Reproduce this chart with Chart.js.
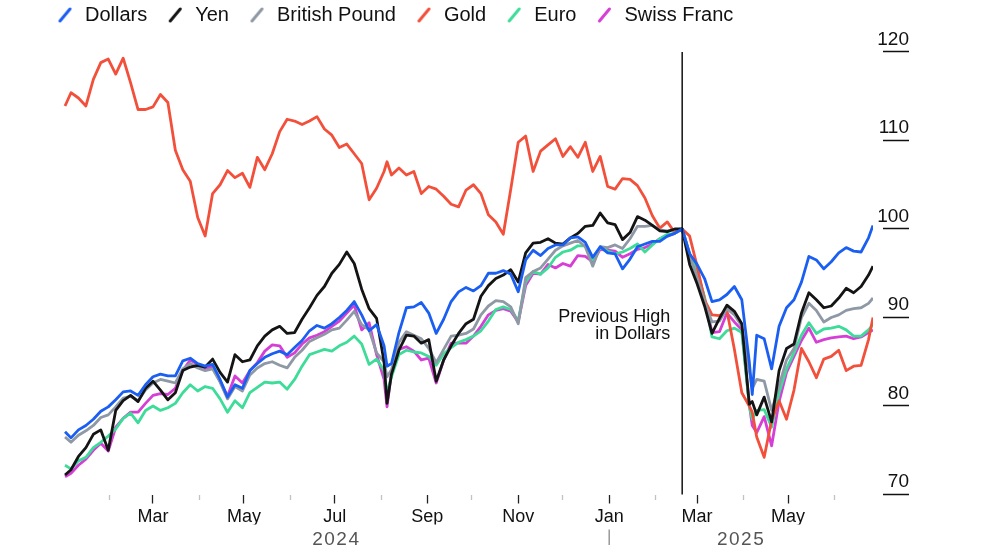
<!DOCTYPE html>
<html><head><meta charset="utf-8">
<script src="https://cdn.jsdelivr.net/npm/chart.js@4.4.1/dist/chart.umd.min.js"></script>
<style>html,body{margin:0;padding:0;background:#fff}#wrap{width:1000px;height:545px;position:relative}</style>
</head><body><div id="wrap"><canvas id="c"></canvas></div>
<script>
// x values: days since 2024-01-01 (trading-day samples)
const days = [
  1,5,10,15,20,25,30,35,40,45,
  50,55,60,65,70,75,80,85,90,95,
  100,105,110,115,120,125,130,135,140,145,
  150,155,160,165,170,175,180,185,190,195,
  200,205,210,215,217,220,225,230,235,240,245,
  250,255,260,265,270,275,280,285,290,295,
  300,305,310,315,320,325,330,335,340,345,
  350,355,360,365,370,375,380,385,390,395,
  400,405,410,415,420,425,430,435,440,445,
  450,455,460,462,465,470,475,480,485,490,495,
  500,505,510,515,520,525,530,535,540,543
];
const dollars = [
  77.1,76.4,77.3,77.8,78.5,79.4,79.9,80.7,81.6,81.7,
  81.2,82.4,83.3,83.6,83.4,83.4,85.1,85.4,84.8,84.5,
  84.7,83.0,81.0,82.4,82.0,84.0,84.8,85.5,85.9,86.2,
  85.8,86.6,87.4,88.5,89.1,88.8,89.3,90.0,90.8,91.8,
  90.3,88.5,89.2,86.8,84.5,84.8,88.3,91.1,91.2,91.7,90.5,
  88.2,89.8,91.8,92.9,93.4,93.0,93.6,95.0,95.0,95.3,
  94.9,92.9,96.5,97.6,97.0,97.8,98.2,98.2,99.0,99.1,
  98.5,96.8,98.0,97.3,97.2,95.5,96.6,98.0,98.3,98.6,
  98.6,99.2,99.5,100.0,97.2,96.0,94.4,91.8,92.0,92.6,
  93.5,92.0,85.0,81.3,88.0,87.6,84.2,89.0,91.1,92.0,94.0,
  96.9,96.5,95.5,96.3,97.3,97.9,97.5,97.4,99.0,100.4
];
const yen = [
  72.2,72.8,74.3,75.3,76.8,77.3,75.0,79.5,80.6,81.2,
  80.5,82.0,82.8,81.8,80.7,81.5,84.0,84.4,84.6,84.4,
  85.3,83.8,82.7,85.8,85.0,85.2,86.8,87.9,88.6,89.0,
  88.2,88.3,89.8,91.1,92.5,93.5,95.0,96.0,97.4,96.1,
  93.2,91.0,89.9,85.0,80.3,83.6,86.3,88.0,87.9,87.1,87.5,
  82.8,85.2,86.8,88.2,89.3,89.8,92.4,93.6,94.4,94.8,
  95.4,94.0,97.3,98.4,98.5,98.9,98.4,98.3,99.0,99.5,
  100.3,100.4,101.8,100.7,100.5,98.8,99.6,101.4,101.0,100.4,
  99.8,99.7,100.0,100.0,96.0,93.8,91.3,88.2,89.9,91.4,
  90.7,89.3,80.2,80.5,79.0,81.0,78.2,84.0,86.5,87.0,90.5,
  92.8,92.0,91.1,91.3,92.2,93.3,92.8,93.5,94.8,95.8
];
const britishPound = [
  76.5,75.9,76.7,77.2,77.8,78.7,79.0,79.9,80.9,81.1,
  80.6,81.8,82.6,83.0,82.8,82.6,84.2,84.8,84.3,84.0,
  84.2,82.7,80.8,82.2,81.7,83.5,84.3,84.8,85.0,84.6,
  84.3,85.5,86.3,87.3,87.7,88.1,88.6,88.8,89.7,90.7,
  89.2,88.6,86.0,85.0,83.3,84.1,87.2,88.4,88.0,87.6,86.5,
  84.9,86.4,87.9,88.0,88.2,88.7,90.3,91.3,91.9,91.8,
  91.2,89.3,94.5,95.2,95.6,96.6,97.6,98.1,98.4,98.7,
  98.0,95.8,98.0,97.9,98.2,97.8,98.9,100.3,100.3,100.4,
  99.9,99.8,99.9,100.0,97.0,94.5,91.8,89.5,89.6,91.0,
  90.3,89.0,84.0,82.0,83.0,82.8,79.5,82.3,85.2,86.5,90.0,
  91.6,90.8,89.5,90.0,90.3,90.8,91.0,91.1,91.6,92.2
];
const gold = [
  113.9,115.4,114.8,113.9,116.9,118.8,119.2,117.5,119.3,116.5,
  113.5,113.5,113.8,115.2,114.3,108.9,106.7,105.4,101.3,99.2,
  104.0,105.0,106.6,105.8,106.3,104.7,108.1,106.7,108.5,111.0,
  112.4,112.2,111.8,112.2,112.7,111.3,110.6,109.2,109.6,108.5,
  107.4,103.3,104.6,106.5,107.6,106.1,106.9,106.1,106.5,104.0,104.8,
  104.5,103.7,102.8,102.5,104.4,105.0,104.0,101.6,100.8,99.4,
  104.5,109.8,110.5,106.5,108.8,109.5,110.2,108.2,109.3,108.1,
  109.8,106.5,108.2,104.8,104.5,105.7,105.6,104.9,103.5,101.5,
  100.1,100.8,99.6,100.0,99.2,95.8,92.0,90.3,90.2,90.8,
  86.4,81.5,80.0,79.3,76.5,74.2,78.4,80.6,78.5,81.8,86.5,
  85.0,83.2,85.3,85.6,86.3,84.0,84.5,84.6,87.5,90.0
];
const euro = [
  73.3,72.9,73.8,74.2,75.3,75.9,76.6,77.4,78.6,79.2,
  78.1,79.5,80.0,79.5,79.8,80.3,81.5,82.4,81.7,82.2,
  82.0,80.8,79.3,80.6,79.8,81.5,82.1,82.7,82.6,82.7,
  81.9,83.0,84.5,85.8,86.1,86.4,86.2,86.8,87.2,87.9,
  87.0,84.7,85.3,84.0,81.4,83.3,85.8,86.3,86.1,86.0,85.6,
  84.6,85.9,86.6,87.2,87.5,87.9,88.5,89.6,90.9,91.2,
  90.9,89.6,94.0,95.2,94.9,95.6,96.8,97.4,97.6,98.1,
  98.1,96.5,97.9,97.5,97.2,97.4,97.8,98.3,97.4,98.2,
  98.9,99.4,99.5,100.0,97.2,95.3,92.3,87.8,87.6,88.5,
  88.8,88.3,80.0,78.5,79.5,79.6,77.6,81.5,84.2,86.0,88.0,
  89.4,88.2,88.7,88.8,89.0,88.6,87.9,87.9,88.6,89.2
];
const swissFranc = [
  72.0,72.4,73.3,74.0,75.0,75.8,74.9,77.6,78.6,79.3,
  79.3,80.3,81.2,81.4,81.3,82.0,84.0,85.2,84.7,84.3,
  84.4,82.8,81.1,83.4,82.6,84.0,84.9,86.2,86.9,86.8,
  85.5,86.0,87.0,87.7,88.0,88.4,89.0,89.6,90.5,91.4,
  88.6,89.4,85.8,83.0,79.9,83.8,86.4,86.7,86.2,85.2,85.4,
  82.6,85.2,87.1,87.1,87.1,87.9,89.0,90.3,90.8,91.0,
  90.7,89.5,93.6,95.0,94.9,96.0,95.6,96.1,95.8,97.0,
  96.9,96.3,97.7,97.6,97.5,96.8,97.2,97.7,97.9,98.3,
  98.9,99.2,99.5,100.0,97.1,95.2,92.2,88.3,88.4,90.5,
  89.5,88.6,80.2,77.8,77.0,78.8,75.5,80.5,83.8,85.6,87.4,
  88.8,87.2,87.5,87.7,87.8,87.9,87.6,87.8,88.3,88.6
];

const seriesNames = ['Dollars', 'Yen', 'British Pound', 'Gold', 'Euro', 'Swiss Franc'];
const seriesValues = [dollars, yen, britishPound, gold, euro, swissFranc];
const seriesColors = ['#1a5ff2', '#141414', '#8f98a5', '#f2503b', '#3ddc98', '#d63fd6'];

const monthTickDays = [31, 60, 91, 121, 152, 182, 213, 244, 274, 305, 335, 366, 397, 425, 456, 486, 517];
const monthTickLabels = ['', 'Mar', '', 'May', '', 'Jul', '', 'Sep', '', 'Nov', '', 'Jan', '', 'Mar', '', 'May', ''];
const yearTickDays = [183, 454.5];
const yearTickLabels = ['2024', '2025'];
const yearBoundaryDay = 366;
const valueTicks = [70, 80, 90, 100, 110, 120];
const peakDay = 415;
const peakLabel = ['Previous High', 'in Dollars'];

const FONT = '"Liberation Sans", Arial, Helvetica, sans-serif';
Chart.defaults.font.family = FONT;

function slashMarker(color) {
  const c = document.createElement('canvas');
  c.width = 30; c.height = 20;
  const g = c.getContext('2d');
  g.strokeStyle = color; g.lineWidth = 3; g.lineCap = 'round';
  g.beginPath(); g.moveTo(16.5, 16); g.lineTo(26.5, 4); g.stroke();
  return c;
}
const markerImgs = seriesColors.map(slashMarker);

const xMin = -17.8, xMax = 543;

const overlay = {
  id: 'overlay',
  afterDatasetsDraw(chart) {
    const {ctx, scales: {x, y}, chartArea} = chart;
    const px = x.getPixelForValue(peakDay);
    ctx.save();
    ctx.strokeStyle = '#111'; ctx.lineWidth = 1.5;
    ctx.beginPath(); ctx.moveTo(px, y.getPixelForValue(120)); ctx.lineTo(px, chartArea.bottom); ctx.stroke();
    ctx.font = '18px ' + FONT; ctx.fillStyle = '#111'; ctx.textAlign = 'right'; ctx.textBaseline = 'middle';
    const ty = y.getPixelForValue(90.1);
    peakLabel.forEach((t, i) => ctx.fillText(t, px - 12, ty + i * 17));
    const sx = x.getPixelForValue(yearBoundaryDay);
    ctx.strokeStyle = '#666'; ctx.lineWidth = 1;
    ctx.beginPath(); ctx.moveTo(sx, chartArea.bottom + 35); ctx.lineTo(sx, chart.height); ctx.stroke();
    ctx.restore();
  }
};

function spacedLabels(s) {
  if (s._spacedPatched) return;
  s._spacedPatched = true;
  const orig = s.drawLabels.bind(s);
  s.drawLabels = function (area) {
    this.ctx.save();
    this.ctx.letterSpacing = '1.5px';
    orig(area);
    this.ctx.restore();
  };
}

new Chart(document.getElementById('c'), {
  type: 'line',
  data: {
    datasets: seriesNames.map((name, i) => ({
      label: name,
      data: days.map((d, j) => ({x: d, y: seriesValues[i][j]})),
      borderColor: seriesColors[i],
      backgroundColor: seriesColors[i],
      borderWidth: 2.8,
      pointRadius: 0,
      tension: 0,
      borderJoinStyle: 'round',
      pointStyle: markerImgs[i]
    }))
  },
  options: {
    responsive: true,
    maintainAspectRatio: false,
    animation: false,
    layout: {padding: {left: 37, right: 91, top: 0, bottom: 0}},
    plugins: {
      tooltip: {enabled: false},
      legend: {
        position: 'top', align: 'start',
        labels: {
          usePointStyle: true, pointStyleWidth: 33, padding: 5,
          color: '#111', font: {size: 20, family: FONT},
          generateLabels(chart) {
            return chart.data.datasets.map((ds, i) => ({
              text: ds.label, pointStyle: markerImgs[i], fillStyle: ds.borderColor,
              strokeStyle: ds.borderColor, lineWidth: 0, hidden: false, datasetIndex: i, fontColor: '#111'
            }));
          }
        }
      }
    },
    scales: {
      x: {
        type: 'linear', position: 'bottom', min: xMin, max: xMax, weight: 0,
        afterBuildTicks: s => { s.ticks = monthTickDays.map(v => ({value: v})); },
        afterFit: s => { s.height = 30; },
        grid: {
          display: true, drawOnChartArea: false, drawTicks: true, tickLength: 9, tickWidth: 1.3,
          tickColor: c => monthTickLabels[c.index] ? '#222' : '#c2c2c2',
          tickBorderDash: c => monthTickLabels[c.index] ? [] : [5, 100]
        },
        border: {display: false},
        ticks: {
          autoSkip: false, maxRotation: 0, minRotation: 0, padding: 3, color: '#111',
          font: {size: 18, family: FONT},
          callback: (v, i) => monthTickLabels[i]
        }
      },
      x2: {
        type: 'linear', position: 'bottom', min: xMin, max: xMax, weight: 1,
        afterBuildTicks: s => { s.ticks = yearTickDays.map(v => ({value: v})); },
        afterFit: s => { s.height = 20.5; spacedLabels(s); },
        grid: {display: false},
        border: {display: false},
        ticks: {
          autoSkip: false, maxRotation: 0, minRotation: 0, padding: -4.5, color: '#555',
          font: {size: 19, family: FONT},
          callback: (v, i) => yearTickLabels[i]
        }
      },
      y: {
        type: 'linear', position: 'right', min: 70, max: 121.92,
        afterBuildTicks: s => { s.ticks = valueTicks.map(v => ({value: v})); },
        afterFit: s => { s.width = 36; },
        grid: {
          drawOnChartArea: false, drawTicks: true, tickLength: 36, tickWidth: 1.5,
          tickColor: '#111', tickBorderDash: [0, 10, 26, 100]
        },
        border: {display: false},
        ticks: {crossAlign: 'far', labelOffset: -12.5, padding: 0, color: '#111', font: {size: 19, family: FONT}}
      }
    }
  },
  plugins: [overlay]
});
</script>
</body></html>
